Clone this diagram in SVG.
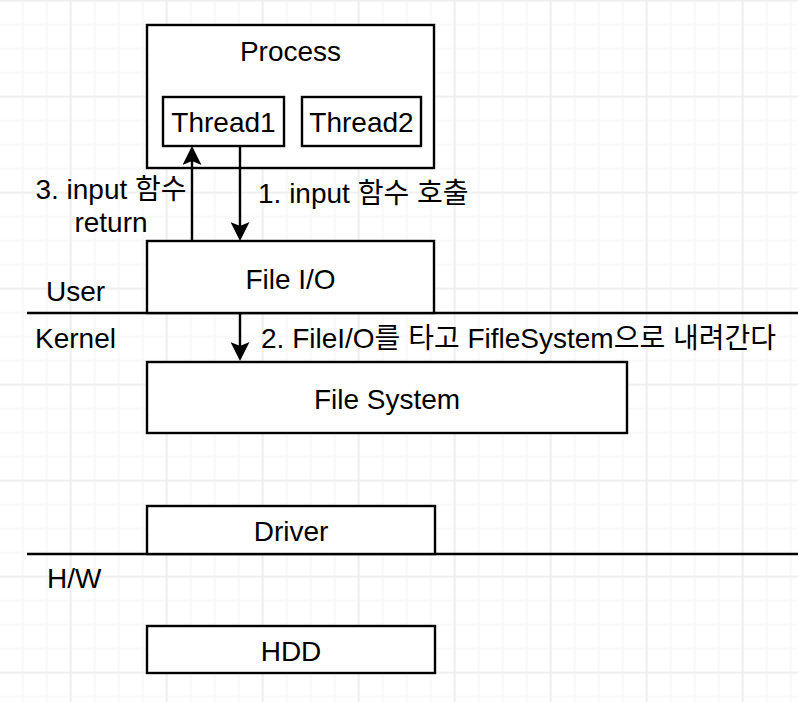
<svg xmlns="http://www.w3.org/2000/svg" width="798" height="702" viewBox="0 0 798 702">
<defs>
<pattern id="minor" patternUnits="userSpaceOnUse" x="10.7" y="-11.3" width="24" height="24">
<path d="M12 0 V24 M0 12 H24" stroke="#f4f4f4" stroke-width="1.2" fill="none"/>
</pattern>
<pattern id="major" patternUnits="userSpaceOnUse" x="22.7" y="48.7" width="96" height="96">
<path d="M48 0 V96 M0 48 H96" stroke="#e9e9e9" stroke-width="1.2" fill="none"/>
</pattern>
<marker id="arr" viewBox="0 0 19 19" refX="4" refY="9.5" markerWidth="19" markerHeight="19" markerUnits="userSpaceOnUse" orient="auto">
<path d="M0 0 L19 9.5 L0 19 L4 9.5 Z" fill="#000"/>
</marker>
</defs>
<style>
.box{fill:#fff;stroke:#000;stroke-width:2.4}
.t{font-family:"Liberation Sans",Arial,Helvetica,"Noto Sans CJK KR",sans-serif;font-size:28px;fill:#000}
.c{text-anchor:middle}
.ln{stroke:#000;stroke-width:2.4;fill:none}
</style>
<rect width="798" height="702" fill="#fff"/>
<rect width="798" height="702" fill="url(#minor)"/>
<rect width="798" height="702" fill="url(#major)"/>

<g id="layers">
<line class="ln" x1="27" y1="313" x2="798" y2="313"/>
<line class="ln" x1="27" y1="554" x2="798" y2="554"/>
<text class="t" x="46" y="301">User</text>
<text class="t" x="35" y="348">Kernel</text>
<text class="t" x="47" y="588">H/W</text>
</g>

<g id="process">
<rect class="box" x="147" y="25" width="287" height="143"/>
<text class="t c" x="290.5" y="61">Process</text>
</g>
<g id="thread1">
<rect class="box" x="163" y="97" width="121" height="49"/>
<text class="t c" x="223.5" y="132">Thread1</text>
</g>
<g id="thread2">
<rect class="box" x="302" y="97" width="119" height="49"/>
<text class="t c" x="361.5" y="132">Thread2</text>
</g>
<g id="fileio">
<rect class="box" x="147" y="241" width="287" height="72"/>
<text class="t c" x="290.5" y="289">File I/O</text>
</g>
<g id="filesystem">
<rect class="box" x="147" y="362" width="480" height="71"/>
<text class="t c" x="387" y="409">File System</text>
</g>
<g id="driver">
<rect class="box" x="147" y="506" width="288" height="48"/>
<text class="t c" x="291" y="541">Driver</text>
</g>
<g id="hdd">
<rect class="box" x="147" y="626" width="288" height="47"/>
<text class="t c" x="291" y="661">HDD</text>
</g>

<g id="connectors">
<line class="ln" x1="192" y1="241" x2="192" y2="161" marker-end="url(#arr)"/>
<line class="ln" x1="240" y1="146" x2="240" y2="226" marker-end="url(#arr)"/>
<line class="ln" x1="240" y1="313" x2="240" y2="346" marker-end="url(#arr)"/>
<text class="t c" x="111" y="199">3. input 함수</text>
<text class="t c" x="111" y="232">return</text>
<text class="t" x="258" y="203">1. input 함수 호출</text>
<text class="t" x="261" y="348">2. FileI/O를 타고 FifleSystem으로 내려간다</text>
</g>
</svg>
